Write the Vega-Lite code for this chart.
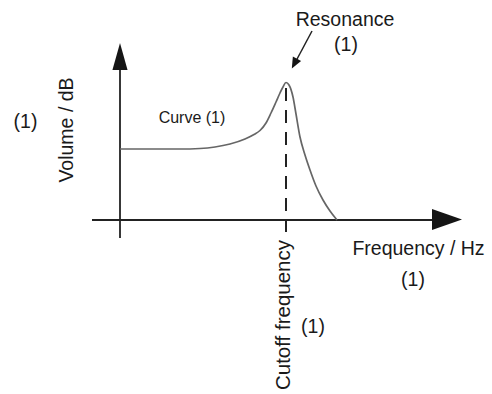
{
  "$schema": "https://vega.github.io/schema/vega-lite/v6.json",
  "width": 492,
  "height": 394,
  "autosize": {"type": "none"},
  "padding": 0,
  "background": "white",
  "config": {"view": {"stroke": null}},
  "encoding": {
    "x": {"field": "x", "type": "quantitative", "scale": {"domain": [-120, 372], "nice": false, "zero": false}, "axis": null},
    "y": {"field": "y", "type": "quantitative", "scale": {"domain": [-174, 220], "nice": false, "zero": false}, "axis": null}
  },
  "layer": [
    {
      "data": {"values": [
        {"x": -28, "y": 0, "x2": 313, "y2": 0},
        {"x": 0, "y": -18, "x2": 0, "y2": 151}
      ]},
      "mark": {"type": "rule", "color": "#222222", "strokeWidth": 1.8},
      "encoding": {"x2": {"field": "x2"}, "y2": {"field": "y2"}}
    },
    {
      "data": {"values": [{"x": 166, "y": 132, "x2": 166, "y2": -12}]},
      "mark": {"type": "rule", "color": "#222222", "strokeWidth": 2, "strokeDash": [13, 9]},
      "encoding": {"x2": {"field": "x2"}, "y2": {"field": "y2"}}
    },
    {
      "data": {"values": [
        {"x": 0, "y": 71},
        {"x": 30, "y": 71},
        {"x": 60, "y": 71},
        {"x": 80, "y": 71.5},
        {"x": 95, "y": 73},
        {"x": 110, "y": 76},
        {"x": 125, "y": 81},
        {"x": 134, "y": 85.5},
        {"x": 140, "y": 89.5},
        {"x": 146, "y": 97},
        {"x": 151, "y": 107},
        {"x": 156, "y": 118},
        {"x": 160, "y": 127},
        {"x": 163, "y": 133},
        {"x": 166, "y": 137.5},
        {"x": 169, "y": 135},
        {"x": 173, "y": 123},
        {"x": 176, "y": 106},
        {"x": 180, "y": 83},
        {"x": 185, "y": 65},
        {"x": 190, "y": 50},
        {"x": 196, "y": 34},
        {"x": 203, "y": 20},
        {"x": 210, "y": 9},
        {"x": 217, "y": 0}
      ]},
      "mark": {"type": "line", "color": "#666666", "strokeWidth": 1.7, "interpolate": "monotone"},
      "encoding": {}
    },
    {
      "data": {"values": [{"x": 192, "y": 189, "x2": 176, "y2": 159}]},
      "mark": {"type": "rule", "color": "#222222", "strokeWidth": 1.5},
      "encoding": {"x2": {"field": "x2"}, "y2": {"field": "y2"}}
    },
    {
      "data": {"values": [{"x": 0, "y": 163.5}]},
      "mark": {"type": "point", "shape": "M0,-1 L0.56,1 L-0.56,1 Z", "size": 729, "filled": true, "opacity": 1, "color": "#151515"},
      "encoding": {}
    },
    {
      "data": {"values": [{"x": 327, "y": 0.5}]},
      "mark": {"type": "point", "shape": "M1,0 L-1,-0.7 L-1,0.7 Z", "size": 900, "filled": true, "opacity": 1, "color": "#151515"},
      "encoding": {}
    },
    {
      "data": {"values": [{"x": 174.4, "y": 156.4}]},
      "mark": {"type": "point", "shape": "M0,-1 L0.85,1 L-0.85,1 Z", "size": 121, "angle": 208, "filled": true, "opacity": 1, "color": "#151515"},
      "encoding": {}
    },
    {
      "data": {"values": [
        {"x": 225, "y": 194, "label": "Resonance"},
        {"x": 226, "y": 169, "label": "(1)"},
        {"x": -94.5, "y": 92, "label": "(1)"},
        {"x": 298.5, "y": -35, "label": "Frequency / Hz"},
        {"x": 293, "y": -66, "label": "(1)"},
        {"x": 193, "y": -113, "label": "(1)"}
      ]},
      "mark": {"type": "text", "font": "Liberation Sans", "fontSize": 19.5, "color": "#1a1a1a", "align": "center", "baseline": "alphabetic"},
      "encoding": {"text": {"field": "label"}}
    },
    {
      "data": {"values": [{"x": 72, "y": 97, "label": "Curve (1)"}]},
      "mark": {"type": "text", "font": "Liberation Sans", "fontSize": 16, "color": "#1a1a1a", "align": "center", "baseline": "alphabetic"},
      "encoding": {"text": {"field": "label"}}
    },
    {
      "data": {"values": [{"x": -47, "y": 90, "label": "Volume / dB"}]},
      "mark": {"type": "text", "font": "Liberation Sans", "fontSize": 19.5, "color": "#1a1a1a", "align": "center", "baseline": "alphabetic", "angle": 270},
      "encoding": {"text": {"field": "label"}}
    },
    {
      "data": {"values": [{"x": 170, "y": -20, "label": "Cutoff frequency"}]},
      "mark": {"type": "text", "font": "Liberation Sans", "fontSize": 20.5, "color": "#1a1a1a", "align": "right", "baseline": "alphabetic", "angle": 270},
      "encoding": {"text": {"field": "label"}}
    }
  ]
}
